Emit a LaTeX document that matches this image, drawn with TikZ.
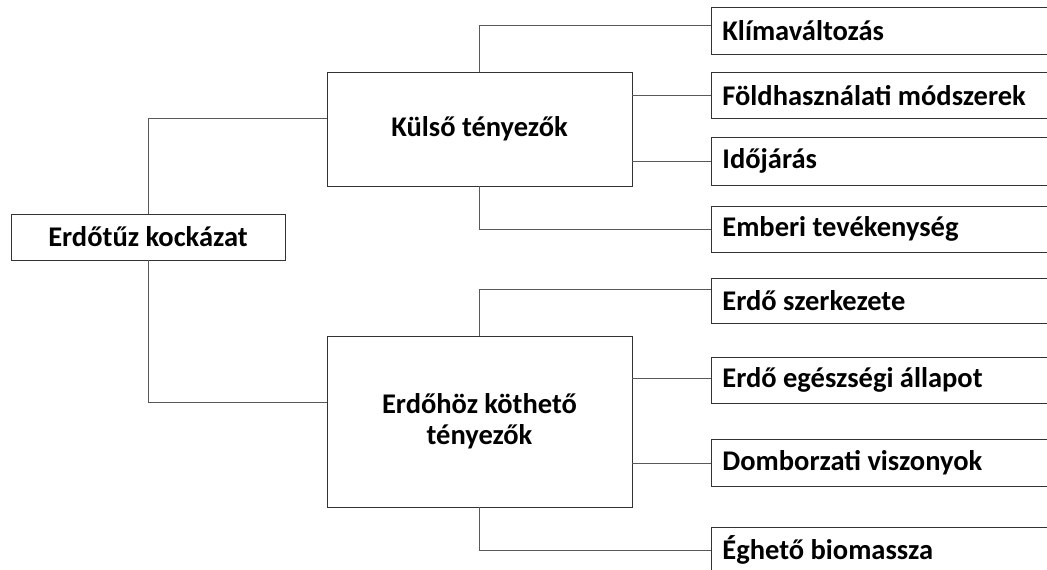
\documentclass[tikz,border=0pt]{standalone}
\usepackage{fontspec}
\setmainfont{Carlito}
\usetikzlibrary{positioning}

\begin{document}
\begin{tikzpicture}[x=1pt,y=-1pt,font=\bfseries\fontsize{28.5}{31}\selectfont,
  box/.style={draw=black!80,line width=0.8pt,fill=white},
  group/.style={box,minimum width=305pt},
  leaf/.style={box,anchor=north west,minimum height=47pt,text width=340pt,align=flush left,inner xsep=11pt},
  link/.style={draw=black!65,line width=0.8pt}]
\useasboundingbox (0,0) rectangle (1047,570);
% root
\node[box,minimum width=274pt,minimum height=46pt] (risk) at (148,237) {Erdőtűz kockázat};
% groups
\node[group,minimum height=114pt] (ext) at (479.5,129) {Külső tényezők};
\node[group,minimum height=171pt,align=center] (forest) at (479.5,421.5) {Erdőhöz köthető\\tényezők};
% leaves
\node[leaf] (klima) at (711,7) {Klímaváltozás};
\node[leaf,minimum height=46pt] (fold) at (711,72) {Földhasználati módszerek};
\node[leaf,minimum height=48pt] (ido) at (711,137) {Időjárás};
\node[leaf,minimum height=46pt] (ember) at (711,206) {Emberi tevékenység};
\node[leaf,minimum height=45pt] (szerk) at (711,278) {Erdő szerkezete};
\node[leaf,minimum height=46pt] (egesz) at (711,357) {Erdő egészségi állapot};
\node[leaf] (domb) at (711,439) {Domborzati viszonyok};
\node[leaf,minimum height=45pt] (eg) at (711,527) {Éghető biomassza};
% connectors
\draw[link] (risk.north) |- ([yshift=11pt]ext.west);
\draw[link] (risk.south) |- ([yshift=19.5pt]forest.west);
\draw[link] (ext.north) |- ([yshift=6pt]klima.west);
\draw[link] (ext.east |- fold.west) -- (fold.west);
\draw[link] (ext.east |- ido.west) -- (ido.west);
\draw[link] (ext.south) |- (ember.west);
\draw[link] (forest.north) |- ([yshift=12pt]szerk.west);
\draw[link] ([yshift=2pt]forest.east |- egesz.west) -- ([yshift=2pt]egesz.west);
\draw[link] (forest.east |- domb.west) -- (domb.west);
\draw[link] (forest.south) |- (eg.west);
\end{tikzpicture}
\end{document}
